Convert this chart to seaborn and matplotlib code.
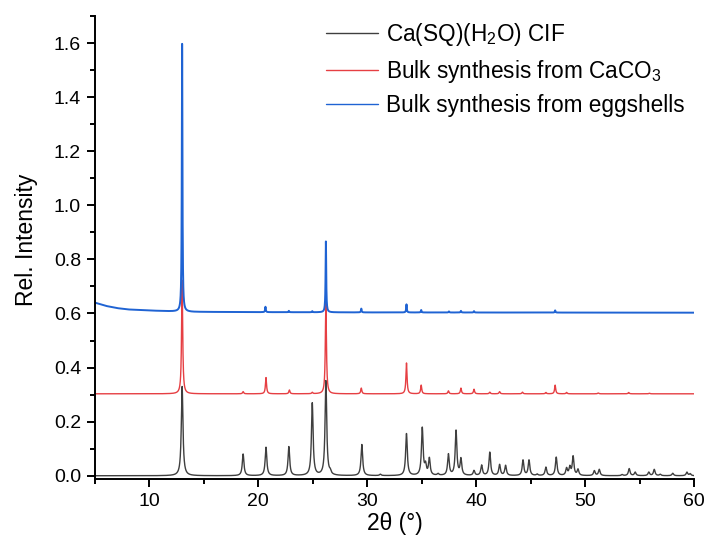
import numpy as np
import pandas as pd
import matplotlib
matplotlib.use("Agg")
import matplotlib.pyplot as plt
import seaborn as sns
from matplotlib.ticker import MultipleLocator, FormatStrFormatter

# --- Peak lists (2θ in degrees, peak height in relative intensity) ---
cif_pos = [13.0, 18.6, 20.7, 22.8, 24.95, 26.2, 26.6, 29.5, 31.2, 33.6,
           35.05, 35.35, 35.7, 36.5, 37.45, 38.15, 38.6, 39.8, 40.5, 41.25,
           42.15, 42.7, 44.3, 44.85, 45.6, 46.4, 47.35, 48.3, 48.6, 48.9,
           49.35, 50.85, 51.3, 53.4, 54.05, 54.6, 55.85, 56.35, 56.9, 58.05,
           59.35, 59.65]
cif_int = [0.33, 0.080, 0.105, 0.107, 0.268, 0.350, 0.010, 0.115, 0.005, 0.155,
           0.175, 0.035, 0.062, 0.006, 0.078, 0.165, 0.060, 0.018, 0.038, 0.086,
           0.040, 0.037, 0.057, 0.057, 0.005, 0.031, 0.068, 0.026, 0.030, 0.070,
           0.022, 0.018, 0.023, 0.004, 0.026, 0.013, 0.013, 0.023, 0.005, 0.009,
           0.013, 0.007]
cif_base = 0.0

caco3_pos = [13.0, 18.6, 20.7, 22.85, 24.95, 26.2, 29.45, 33.6, 34.95, 37.45,
             38.6, 39.8, 41.25, 42.15, 44.25, 46.4, 47.25, 48.3, 51.2, 54.0, 55.9]
caco3_int = [0.42, 0.008, 0.060, 0.014, 0.005, 0.335, 0.021, 0.114, 0.032, 0.011,
             0.021, 0.017, 0.006, 0.008, 0.006, 0.005, 0.032, 0.005, 0.003, 0.005, 0.002]
caco3_base = 0.303

egg_pos = [13.0, 20.65, 22.8, 24.95, 26.2, 29.45, 33.6, 34.95, 37.5, 38.6, 39.8, 47.25]
egg_int = [0.99, 0.020, 0.005, 0.004, 0.262, 0.014, 0.030, 0.009, 0.004, 0.006, 0.005, 0.008]
egg_bg_x = [5, 6, 7, 8, 10, 12, 14, 20, 30, 60]
egg_bg_y = [0.640, 0.628, 0.620, 0.615, 0.611, 0.608, 0.606, 0.605, 0.604, 0.603]

labels = ["Ca(SQ)(H$_2$O) CIF",
          "Bulk synthesis from CaCO$_3$",
          "Bulk synthesis from eggshells"]
colors = ["#3f3f3f", "#e63f43", "#1f63d3"]

two_theta = np.arange(5.0, 60.0001, 0.01)


def pattern(pos, inten, hwhm, background):
    """Sum of Lorentzian reflections on top of a background."""
    pos = np.asarray(pos)[:, None]
    inten = np.asarray(inten)[:, None]
    prof = inten * hwhm**2 / (hwhm**2 + (two_theta[None, :] - pos) ** 2)
    return background + prof.sum(axis=0)


cif = pattern(cif_pos, cif_int, 0.09, cif_base)
caco3 = pattern(caco3_pos, caco3_int, 0.06, caco3_base)
egg = pattern(egg_pos, egg_int, 0.035, np.interp(two_theta, egg_bg_x, egg_bg_y))

df = pd.DataFrame({"two_theta": two_theta, "cif": cif, "caco3": caco3, "egg": egg})

sns.set_style("ticks")
plt.rcParams["font.family"] = ["Liberation Sans", "DejaVu Sans"]
plt.rcParams["mathtext.fontset"] = "custom"
plt.rcParams["mathtext.rm"] = "Liberation Sans"
plt.rcParams["mathtext.it"] = "Liberation Sans:italic"
plt.rcParams["mathtext.bf"] = "Liberation Sans:bold"
plt.rcParams["text.color"] = "black"

fig = plt.figure(figsize=(7.1, 5.45), dpi=100)
ax = fig.add_axes([95 / 710, 1 - 479 / 545, 599 / 710, 463 / 545])

for col, lab, c, lw in zip(["cif", "caco3", "egg"], labels, colors, [1.0, 1.0, 1.4]):
    sns.lineplot(data=df, x="two_theta", y=col, ax=ax, color=c, lw=lw,
                 label=lab, estimator=None, sort=False)

ax.set_xlim(5, 60)
ax.set_ylim(-0.012, 1.70)
ax.xaxis.set_major_locator(MultipleLocator(10))
ax.xaxis.set_minor_locator(MultipleLocator(5))
ax.yaxis.set_major_locator(MultipleLocator(0.2))
ax.yaxis.set_minor_locator(MultipleLocator(0.1))
ax.yaxis.set_major_formatter(FormatStrFormatter("%.1f"))

sns.despine(ax=ax)
for side in ("left", "bottom"):
    ax.spines[side].set_linewidth(1.4)
    ax.spines[side].set_color("black")
ax.tick_params(which="major", direction="out", length=6, width=1.4,
               labelsize=14, pad=4, color="black", labelcolor="black")
ax.tick_params(which="minor", direction="out", length=3.5, width=1.4, color="black")

ax.set_xlabel("2θ (°)", fontsize=16.5, color="black")
ax.set_ylabel("Rel. Intensity", fontsize=16.5, color="black")
ax.xaxis.set_label_coords(0.5, -0.071)
ax.yaxis.set_label_coords(-0.095, 0.517)

leg = ax.legend(loc="upper left", bbox_to_anchor=(326 / 710, 1 - 21 / 545),
                bbox_transform=fig.transFigure, frameon=False, fontsize=16.3,
                handlelength=2.3, handletextpad=0.36, labelspacing=0.42,
                borderpad=0, borderaxespad=0)
for line in leg.get_lines():
    line.set_linewidth(1.0)
for t in leg.get_texts():
    t.set_color("black")

fig.savefig("out.png", dpi=100)
